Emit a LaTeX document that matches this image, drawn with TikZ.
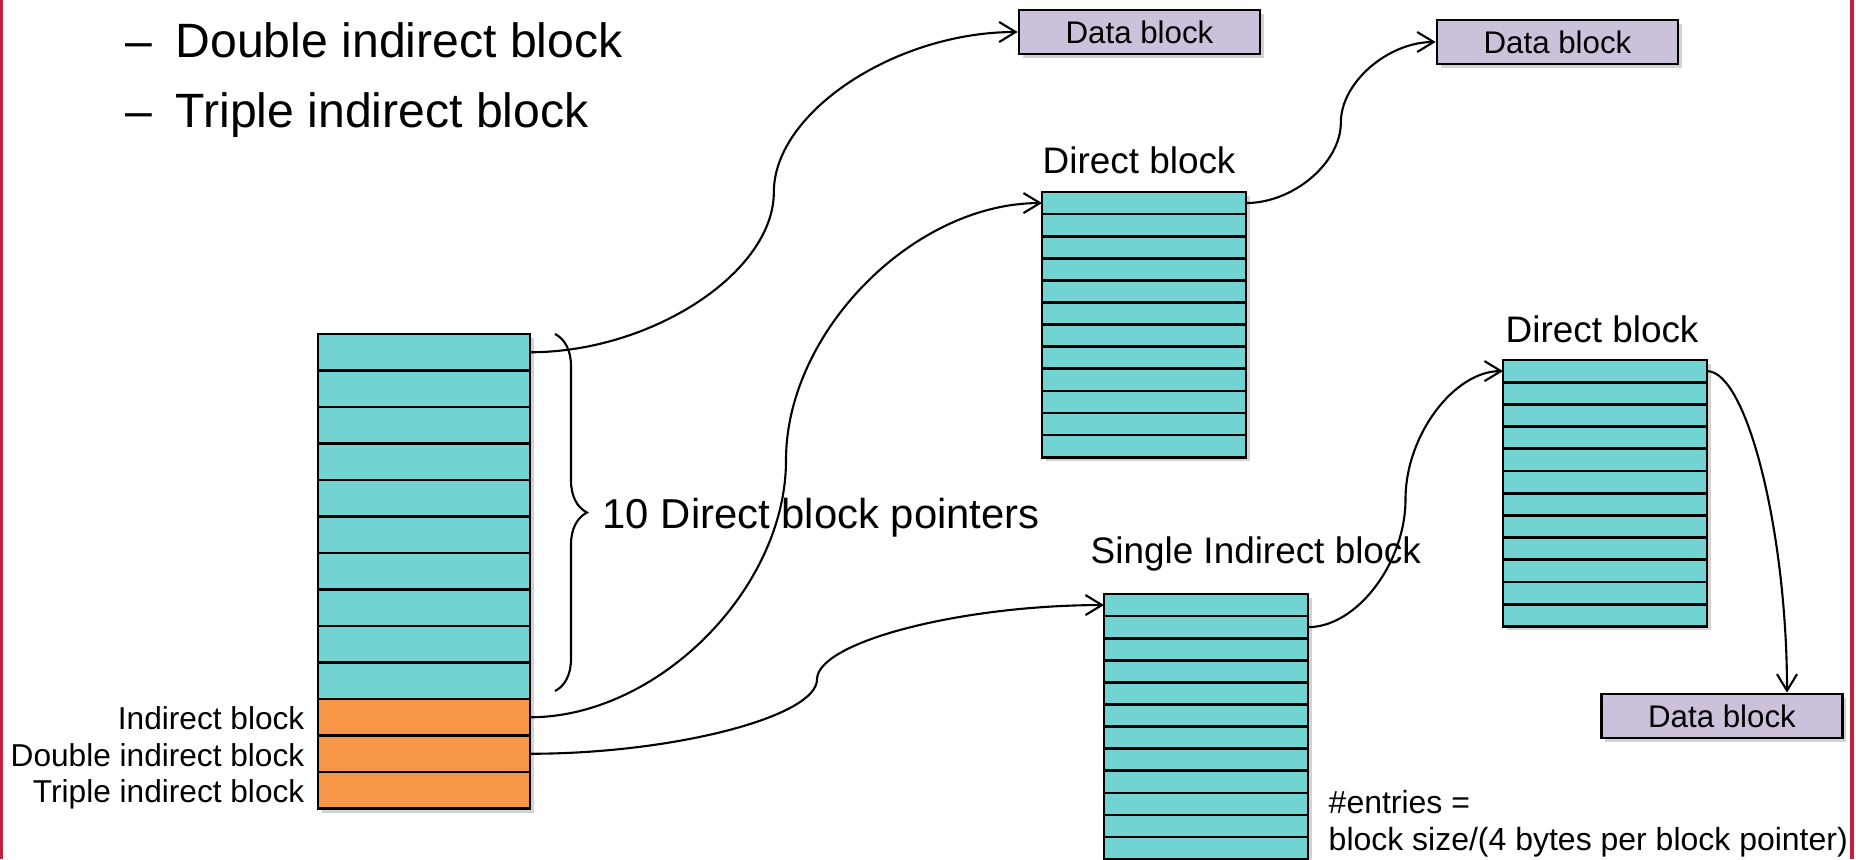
\documentclass[tikz,border=0pt]{standalone}
\usepackage{fontspec}
\setmainfont{Liberation Sans}
\usetikzlibrary{arrows.meta}
\usetikzlibrary{calc}
\usetikzlibrary{positioning}
\usetikzlibrary{shadows}
\usetikzlibrary{decorations.pathreplacing}

\definecolor{ptrteal}{RGB}{113,212,211}
\definecolor{ptrorange}{RGB}{247,150,70}
\definecolor{datalilac}{RGB}{204,193,218}
\definecolor{slidered}{RGB}{196,32,62}

\tikzset{
	cell/.style={draw, line width=0.75pt, inner sep=0pt, outer sep=0pt},
	colshadow/.style={fill=white, drop shadow={shadow xshift=1pt, shadow yshift=-1.2pt, opacity=0.35}},
	datablock/.style={draw, line width=0.75pt, fill=datalilac, minimum width=2.41cm, minimum height=0.44cm, inner sep=0pt, font=\fontsize{8.9}{10}\selectfont, drop shadow={shadow xshift=1pt, shadow yshift=-1.2pt, opacity=0.35}},
	blocklabel/.style={inner sep=0pt, anchor=base west, font=\fontsize{10.5}{12}\selectfont},
	slotlabel/.style={inner sep=0pt, text height=0.72em, text depth=0pt, font=\fontsize{9}{10}\selectfont},
	link/.style={line width=0.6pt, -{Straight Barb[length=4.7pt, width=5.7pt]}},
	% flat start, vertical middle, flat end
	scurve/.style={to path={let \p1=(\tikztostart), \p2=(\tikztotarget) in
		.. controls ({(3*\x1+\x2)/4},\y1) and ({(\x1+\x2)/2},{(3*\y1+\y2)/4}) .. ({(\x1+\x2)/2},{(\y1+\y2)/2})
		.. controls ({(\x1+\x2)/2},{(\y1+3*\y2)/4}) and ({(\x1+3*\x2)/4},\y2) .. (\tikztotarget)}}
}

\begin{document}
\begin{tikzpicture}
	\useasboundingbox (0,0) rectangle (18.56,8.59);
	
	% slide edges
	\fill[slidered] (0,0) rectangle (0.03,8.59);
	\fill[slidered] (18.50,0) rectangle (18.54,8.59);
	
	% bullet lines
	\node[anchor=base west, inner sep=0pt, font=\fontsize{13.7}{16}\selectfont] (dbl) at (1.25,8.02) {\makebox[0.5cm][l]{\textendash}Double indirect block};
	\node[anchor=base west, inner sep=0pt, font=\fontsize{13.7}{16}\selectfont] (trp) at (1.25,7.32) {\makebox[0.5cm][l]{\textendash}Triple indirect block};
	
	% inode pointers
	\path[colshadow] (3.18,0.505) rectangle (5.30,5.25);
	\foreach \i in {1,...,13}{
		\ifnum\i>10 \def\cellcol{ptrorange}\else\def\cellcol{ptrteal}\fi
		\node[cell, fill=\cellcol, minimum width=2.12cm, minimum height=0.365cm] (ino\i) at (4.24,{5.25-(\i-0.5)*0.365}) {};
	}
	\node[slotlabel, left=0.13cm of ino11] (indl) {Indirect block};
	\node[slotlabel, left=0.13cm of ino12] (dindl) {Double indirect block};
	\node[slotlabel, left=0.13cm of ino13] (tindl) {Triple indirect block};
	
	\draw[line width=0.6pt, decorate, decoration={brace, amplitude=0.32cm}] ([xshift=0.25cm]ino1.north east) -- ([xshift=0.25cm, yshift=0.08cm]ino10.south east);
	\node[anchor=base west, inner sep=0pt, font=\fontsize{11.9}{14}\selectfont] (ptrtxt) at (6.02,3.31) {10 Direct block pointers};
	
	% direct block (top)
	\path[colshadow] (10.42,4.02) rectangle (12.46,6.67);
	\foreach \i in {1,...,12}
		\node[cell, fill=ptrteal, minimum width=2.04cm, minimum height=0.221cm] (dirA\i) at (11.44,{6.67-(\i-0.5)*0.221}) {};
	\node[blocklabel] (dirAlbl) at (10.42,6.86) {Direct block};
	
	% single indirect block
	\path[colshadow] (11.04,0) rectangle (13.08,2.65);
	\foreach \i in {1,...,12}
		\node[cell, fill=ptrteal, minimum width=2.04cm, minimum height=0.221cm] (sin\i) at (12.06,{2.65-(\i-0.5)*0.221}) {};
	\node[blocklabel] (sinlbl) at (10.90,2.96) {Single Indirect block};
	
	% direct block (right)
	\path[colshadow] (15.03,2.33) rectangle (17.07,4.99);
	\foreach \i in {1,...,12}
		\node[cell, fill=ptrteal, minimum width=2.04cm, minimum height=0.222cm] (dirB\i) at (16.05,{4.99-(\i-0.5)*0.222}) {};
	\node[blocklabel] (dirBlbl) at (15.05,5.17) {Direct block};
	
	% data blocks
	\node[datablock] (datA) at (11.395,8.27) {Data block};
	\node[datablock] (datB) at (15.575,8.17) {Data block};
	\node[datablock] (datC) at (17.22,1.43) {Data block};
	
	\node[anchor=base west, inner sep=0pt, font=\fontsize{9.1}{11}\selectfont] (entries) at (13.28,0.46) {\#entries =};
	\node[anchor=base west, inner sep=0pt, font=\fontsize{9.1}{11}\selectfont] (entsize) at (13.28,0.09) {block size/(4 bytes per block pointer)};
	
	% pointers
	\draw[link] (ino1.east) to[scurve] (datA.west);
	\draw[link] (ino11.east) to[scurve] (dirA1.west);
	\draw[link] (ino12.east) to[scurve] (sin1.west);
	\draw[link] (dirA1.east) to[scurve] (datB.west);
	\draw[link] (sin2.east) to[scurve] (dirB1.west);
	\draw[link] (dirB1.east) to[out=0, in=90, out distance=0.4cm, in distance=1.6cm] ([xshift=0.65cm]datC.north);
\end{tikzpicture}
\end{document}
